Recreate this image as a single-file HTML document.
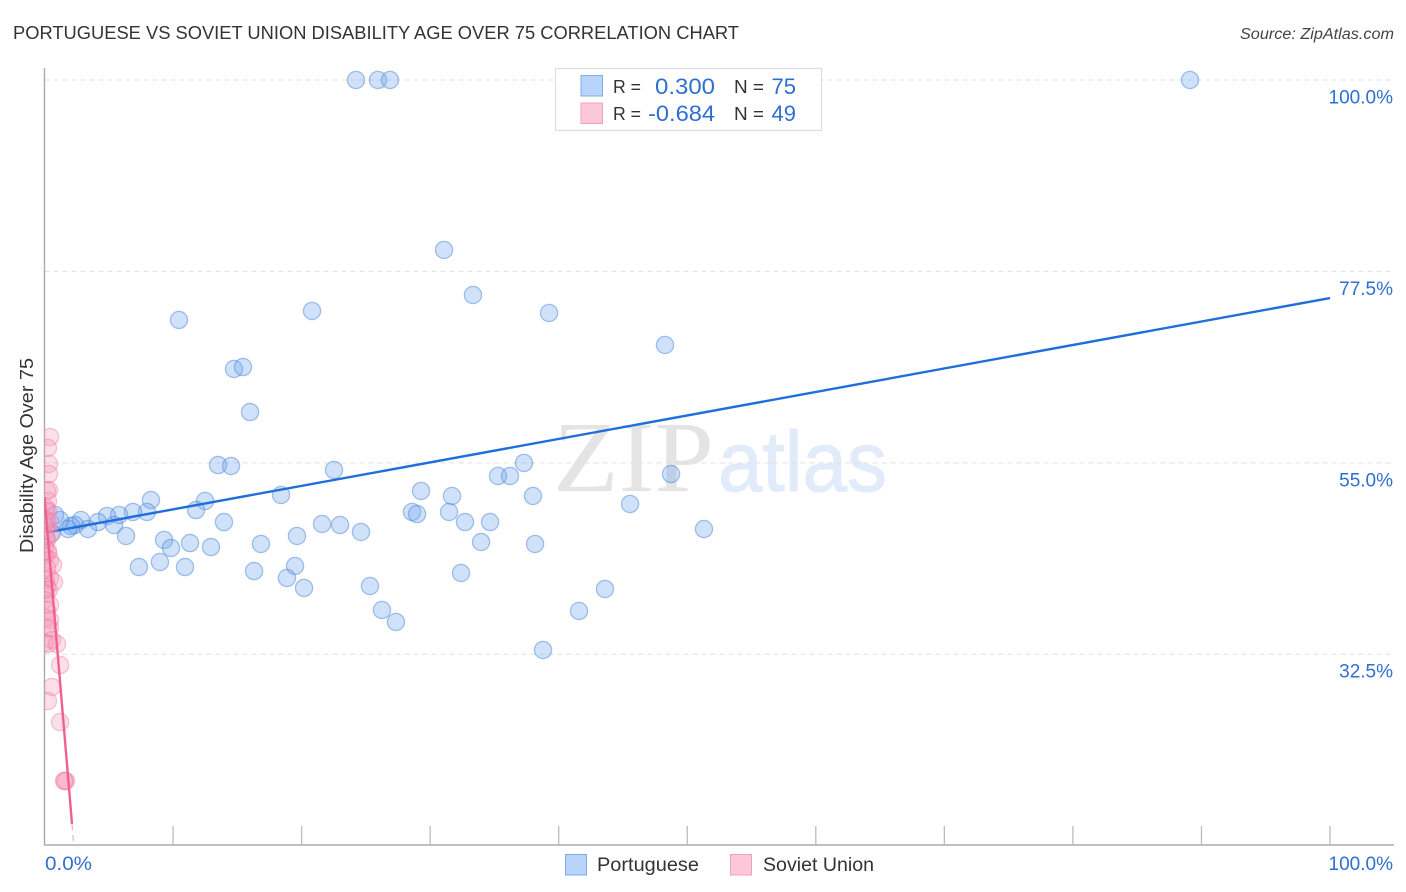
<!DOCTYPE html>
<html>
<head>
<meta charset="utf-8">
<style>
html,body{margin:0;padding:0;background:#fff;}
svg{display:block;font-family:"Liberation Sans",sans-serif;}
</style>
</head>
<body>
<svg id="chart" width="1406" height="892" viewBox="0 0 1406 892" xmlns="http://www.w3.org/2000/svg">
  <defs><clipPath id="plot-clip"><rect x="44.5" y="60" width="1350" height="785"/></clipPath></defs>
  <rect width="1406" height="892" fill="#fff"/>
  <text x="13" y="39" font-size="18.5" fill="#333" textLength="726" lengthAdjust="spacingAndGlyphs">PORTUGUESE VS SOVIET UNION DISABILITY AGE OVER 75 CORRELATION CHART</text>
  <text x="1240" y="39" font-size="15.5" font-style="italic" fill="#444" textLength="154" lengthAdjust="spacingAndGlyphs">Source: ZipAtlas.com</text>
  <g>
    <text x="553" y="491" font-family="'Liberation Serif',serif" font-size="101" fill="#e4e4e4" textLength="161" lengthAdjust="spacingAndGlyphs">ZIP</text>
    <text x="718" y="491" font-size="85" fill="#e2ebfa" stroke="#e2ebfa" stroke-width="1" textLength="169" lengthAdjust="spacingAndGlyphs">atlas</text>
  </g>
  <g id="grid"></g>
  <g id="axes"></g>
  <g id="marks" clip-path="url(#plot-clip)"></g>
  <g id="labels"></g>
  <text transform="translate(33,553) rotate(-90)" font-size="18" fill="#333" textLength="195" lengthAdjust="spacingAndGlyphs">Disability Age Over 75</text>

  <g>
    <rect x="555.5" y="68.5" width="266" height="62" fill="#fff" stroke="#ddd" stroke-width="1.2"/>
    <rect x="581" y="75.5" width="21.5" height="20.5" fill="#b8d4f8" stroke="#7fade6" stroke-width="1"/>
    <rect x="581" y="103" width="21.5" height="20.5" fill="#fcc8d9" stroke="#f2a0bb" stroke-width="1"/>
    <text x="613" y="93" font-size="18" fill="#333" textLength="28" lengthAdjust="spacingAndGlyphs">R =</text>
    <text x="655" y="94" font-size="22" fill="#2f6fd0" textLength="60" lengthAdjust="spacingAndGlyphs">0.300</text>
    <text x="734" y="93" font-size="18" fill="#333" textLength="30" lengthAdjust="spacingAndGlyphs">N =</text>
    <text x="796" y="94" font-size="22" fill="#2f6fd0" text-anchor="end">75</text>
    <text x="613" y="120" font-size="18" fill="#333" textLength="28" lengthAdjust="spacingAndGlyphs">R =</text>
    <text x="648" y="121" font-size="22" fill="#2f6fd0" textLength="67" lengthAdjust="spacingAndGlyphs">-0.684</text>
    <text x="734" y="120" font-size="18" fill="#333" textLength="30" lengthAdjust="spacingAndGlyphs">N =</text>
    <text x="796" y="121" font-size="22" fill="#2f6fd0" text-anchor="end">49</text>
  </g>

  <g>
    <rect x="565.5" y="854.5" width="21" height="20.5" fill="#b8d4f8" stroke="#7fade6" stroke-width="1"/>
    <text x="597" y="871" font-size="19.5" fill="#333" textLength="102" lengthAdjust="spacingAndGlyphs">Portuguese</text>
    <rect x="730.5" y="854.5" width="21" height="20.5" fill="#fcc8d9" stroke="#f2a0bb" stroke-width="1"/>
    <text x="763" y="871" font-size="19.5" fill="#333" textLength="111" lengthAdjust="spacingAndGlyphs">Soviet Union</text>
  </g>
</svg>
<script>
const xTicks = [0, 10, 20, 30, 40, 50, 60, 70, 80, 90, 100];
const yTicks = [100, 77.5, 55, 32.5];
const yTickLabels = ["100.0%", "77.5%", "55.0%", "32.5%"];
const xEndLabels = ["0.0%", "100.0%"];

const portugueseX = [24.23,25.94,26.88,89.11,31.08,33.33,20.81,39.25,10.46,48.27,14.74,15.44,15.99,13.50,14.51,22.52,48.74,35.28,36.21,37.30,38.00,29.29,31.70,18.40,8.28,12.49,45.55,11.79,7.97,6.88,5.80,4.86,28.59,28.98,31.47,32.71,34.66,21.59,22.99,13.96,5.41,4.16,3.38,2.84,2.37,2.06,1.21,0.82,1.83,0.58,51.30,6.34,9.30,9.84,11.32,12.95,16.84,19.64,24.62,33.96,38.16,7.35,8.98,10.93,16.30,19.49,18.86,20.19,25.32,32.40,43.60,26.25,41.58,27.34,38.78];
const portugueseY = [100,100,100,100,80.02,74.73,72.85,72.61,71.79,68.85,66.03,66.26,60.97,54.74,54.63,54.16,53.68,53.45,53.45,54.98,51.10,51.69,51.10,51.22,50.63,50.51,50.16,49.45,49.22,49.22,48.87,48.75,49.22,48.98,49.22,48.04,48.04,47.81,47.69,48.04,47.69,48.04,47.22,48.28,47.69,47.57,48.28,48.87,47.22,46.75,47.22,46.40,45.93,44.99,45.57,45.10,45.46,46.40,46.87,45.69,45.46,42.75,43.34,42.75,42.28,42.87,41.46,40.29,40.52,42.05,40.17,37.70,37.58,36.29,33.00];

const sovietX = [0.43,0.27,0.35,0.35,0.35,0.19,0.27,0.12,0.12,0.27,0.12,0.19,0.43,0.00,0.12,0.43,0.12,0.19,0.04,0.27,0.27,0.00,0.43,0.66,0.19,0.43,0.12,0.74,0.19,0.35,0.12,0.00,0.43,0.19,0.19,0.43,0.12,0.43,0.58,0.00,0.97,0.27,1.21,0.58,0.27,1.21,1.59,1.67,1.52];
const sovietY = [58.03,56.74,54.86,53.68,51.80,51.69,50.51,49.69,49.34,49.34,48.28,48.04,48.04,47.81,46.98,46.51,46.28,45.93,44.99,44.63,44.40,44.05,43.58,42.99,42.63,41.46,41.22,40.99,40.40,40.05,39.58,38.87,38.29,37.70,36.76,36.52,35.58,35.58,34.17,33.82,33.70,33.70,31.23,28.65,27.00,24.53,17.60,17.60,17.60];

const portugueseTrendX = [0.3, 100];
const portugueseTrendY = [46.85, 74.37];
const sovietTrendX = [0, 2.14];
const sovietTrendY = [50.98, 12.54];
const sovietTrendExtensionX = [2.14, 2.27];
const sovietTrendExtensionY = [12.54, 10.07];

const NS = "http://www.w3.org/2000/svg";
const X0 = 44.5, X1 = 1330, Y100 = 80, PX_PER_PCT_Y = 8.507, AXIS_BOTTOM = 845;
function xScale(v) { return X0 + (v / 100) * (X1 - X0); }
function yScale(v) { return Y100 + (100 - v) * PX_PER_PCT_Y; }
function make(tag, attrs, parent) {
  const el = document.createElementNS(NS, tag);
  for (const k in attrs) el.setAttribute(k, attrs[k]);
  parent.appendChild(el);
  return el;
}
const grid = document.getElementById("grid");
const axes = document.getElementById("axes");
const marks = document.getElementById("marks");
const labels = document.getElementById("labels");

yTicks.forEach(function (t, i) {
  const line = make("line", {x1: X0, x2: 1394, y1: yScale(t), y2: yScale(t), stroke: "#e0e0e0", "stroke-width": 1, "stroke-dasharray": "5 4"}, grid);
  
  
  const label = make("text", {x: 1393, y: yScale(t) + 23.5, "font-size": 19, fill: "#2f6fd0", "text-anchor": "end"}, labels);
  
  
  label.textContent = yTickLabels[i];
});

const yAxis = make("line", {x1: X0, x2: X0, y1: 68, y2: AXIS_BOTTOM + 0.5, stroke: "#aaa", "stroke-width": 1.4}, axes);


const xAxis = make("line", {x1: X0, x2: 1394, y1: AXIS_BOTTOM, y2: AXIS_BOTTOM, stroke: "#aaa", "stroke-width": 1.4}, axes);


xTicks.slice(1).forEach(function (t) {
  const tick = make("line", {x1: xScale(t), x2: xScale(t), y1: 826, y2: AXIS_BOTTOM, stroke: "#bbb", "stroke-width": 1.3}, axes);
  
  
});

const xLeft = make("text", {x: 45, y: 870, "font-size": 19.5, fill: "#2f6fd0", textLength: 47, lengthAdjust: "spacingAndGlyphs"}, labels);


xLeft.textContent = xEndLabels[0];
const xRight = make("text", {x: 1393, y: 870, "font-size": 19, fill: "#2f6fd0", "text-anchor": "end"}, labels);


xRight.textContent = xEndLabels[1];

portugueseX.forEach(function (v, i) {
  const c = make("circle", {cx: xScale(v), cy: yScale(portugueseY[i]), r: 8.6, fill: "rgba(110,165,240,0.32)", stroke: "rgba(80,135,215,0.5)", "stroke-width": 1.3}, marks);
  
  
});
const blueTrend = make("line", {x1: xScale(portugueseTrendX[0]), y1: yScale(portugueseTrendY[0]), x2: xScale(portugueseTrendX[1]), y2: yScale(portugueseTrendY[1]), stroke: "#1f6fd8", "stroke-width": 2.4}, marks);



sovietX.forEach(function (v, i) {
  const c = make("circle", {cx: xScale(v), cy: yScale(sovietY[i]), r: 8.6, fill: "rgba(248,150,185,0.3)", stroke: "rgba(235,120,160,0.42)", "stroke-width": 1.3}, marks);
  
  
});
const pinkTrend = make("line", {x1: xScale(sovietTrendX[0]), y1: yScale(sovietTrendY[0]), x2: xScale(sovietTrendX[1]), y2: yScale(sovietTrendY[1]), stroke: "#f0608f", "stroke-width": 2.4}, marks);


const pinkExt = make("line", {x1: xScale(sovietTrendExtensionX[0]), y1: yScale(sovietTrendExtensionY[0]), x2: xScale(sovietTrendExtensionX[1]), y2: yScale(sovietTrendExtensionY[1]), stroke: "#f0a0bb", "stroke-width": 1, "stroke-dasharray": "6 5"}, marks);


</script>
</body>
</html>
